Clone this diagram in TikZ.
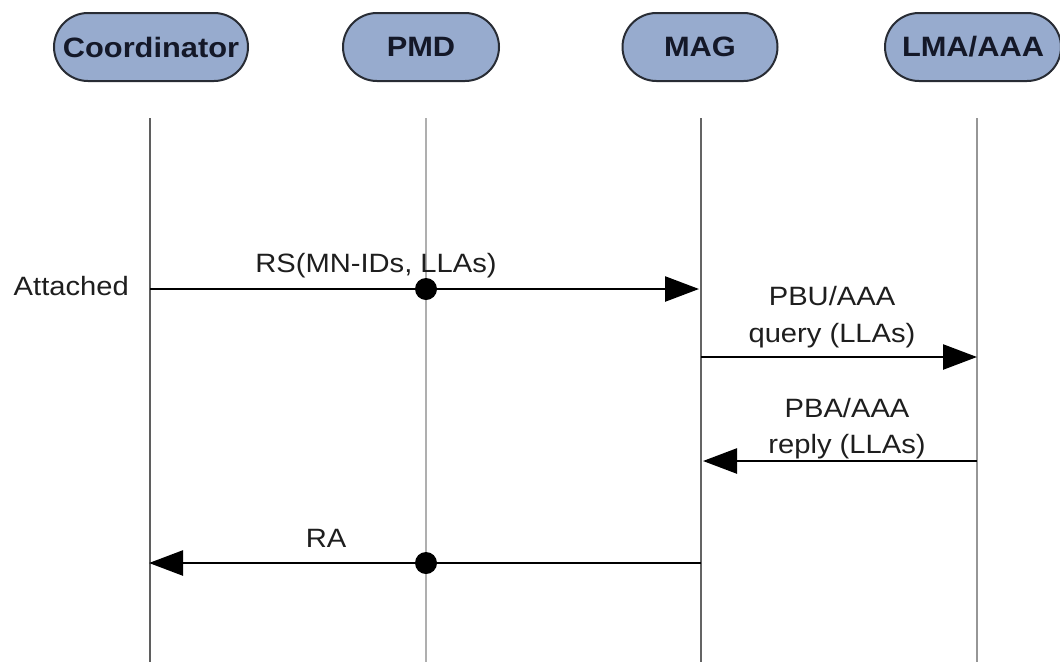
\documentclass[tikz,border=0pt]{standalone}
\usepackage{fontspec}
\setmainfont{Liberation Sans}[FakeStretch=1.1]
\usetikzlibrary{arrows.meta,shapes.misc}
\definecolor{pillfill}{RGB}{151,171,206}
\definecolor{pillline}{RGB}{40,44,52}
\definecolor{pilltext}{RGB}{20,24,40}
\definecolor{txt}{RGB}{30,30,30}
\begin{document}
\begin{tikzpicture}[x=1pt,y=-1pt,
  pill/.style={rounded rectangle, draw=pillline, line width=2pt, fill=pillfill,
    minimum height=68pt, inner sep=0pt, text=pilltext,
    font=\bfseries\fontsize{28}{32}\selectfont},
  lifeline/.style={line width=1.8pt},
  msg/.style={line width=2.5pt, black, -{Triangle[length=34pt,width=25pt]}},
  lbl/.style={anchor=base, inner sep=0pt, text=txt, font=\fontsize{26.5}{30}\selectfont},
  dotmark/.style={circle, fill=black, minimum size=22pt, inner sep=0pt}]
\useasboundingbox (0,0) rectangle (1060,662);
\fill[white] (0,0) rectangle (1060,662);
% headers
\node[pill, minimum width=194pt] (coord) at (151,47) {Coordinator};
\node[pill, minimum width=156pt] (pmd) at (421,47) {PMD};
\node[pill, minimum width=155pt] (mag) at (700,47) {MAG};
\node[pill, minimum width=176pt] (lma) at (973,47) {LMA/AAA};
% lifeline ends
\coordinate (cT) at (150,118); \coordinate (cB) at (150,662);
\coordinate (pT) at (426,118); \coordinate (pB) at (426,662);
\coordinate (mT) at (701,118); \coordinate (mB) at (701,662);
\coordinate (lT) at (977,118); \coordinate (lB) at (977,662);
\draw[lifeline, draw={rgb,255:red,95;green,95;blue,95}] (cT) -- (cB);
\draw[lifeline, draw={rgb,255:red,175;green,175;blue,175}] (pT) -- (pB);
\draw[lifeline, draw={rgb,255:red,100;green,100;blue,100}] (mT) -- (mB);
\draw[lifeline, draw={rgb,255:red,150;green,150;blue,150}] (lT) -- (lB);
% message points
\coordinate (c1) at (150,289); \coordinate (m1) at (699,289);
\coordinate (m2) at (701,357); \coordinate (l2) at (977,357);
\coordinate (l3) at (977,461); \coordinate (m3) at (703,461);
\coordinate (m4) at (701,563); \coordinate (c4) at (149,563);
% messages
\draw[msg] (c1) -- (m1);
\draw[msg] (m2) -- (l2);
\draw[msg] (l3) -- (m3);
\draw[msg] (m4) -- (c4);
\node[dotmark] (d1) at (426,289) {};
\node[dotmark] (d2) at (426,563) {};
% labels
\node[lbl, anchor=base east] (att) at (129,295) {Attached};
\node[lbl] (rs) at (376,272) {RS(MN-IDs, LLAs)};
\node[lbl] (pbu1) at (832,305) {PBU/AAA};
\node[lbl] (pbu2) at (832,342) {query (LLAs)};
\node[lbl] (pba1) at (847,417) {PBA/AAA};
\node[lbl] (pba2) at (847,453) {reply (LLAs)};
\node[lbl] (ra) at (326,547) {RA};
\end{tikzpicture}
\end{document}
